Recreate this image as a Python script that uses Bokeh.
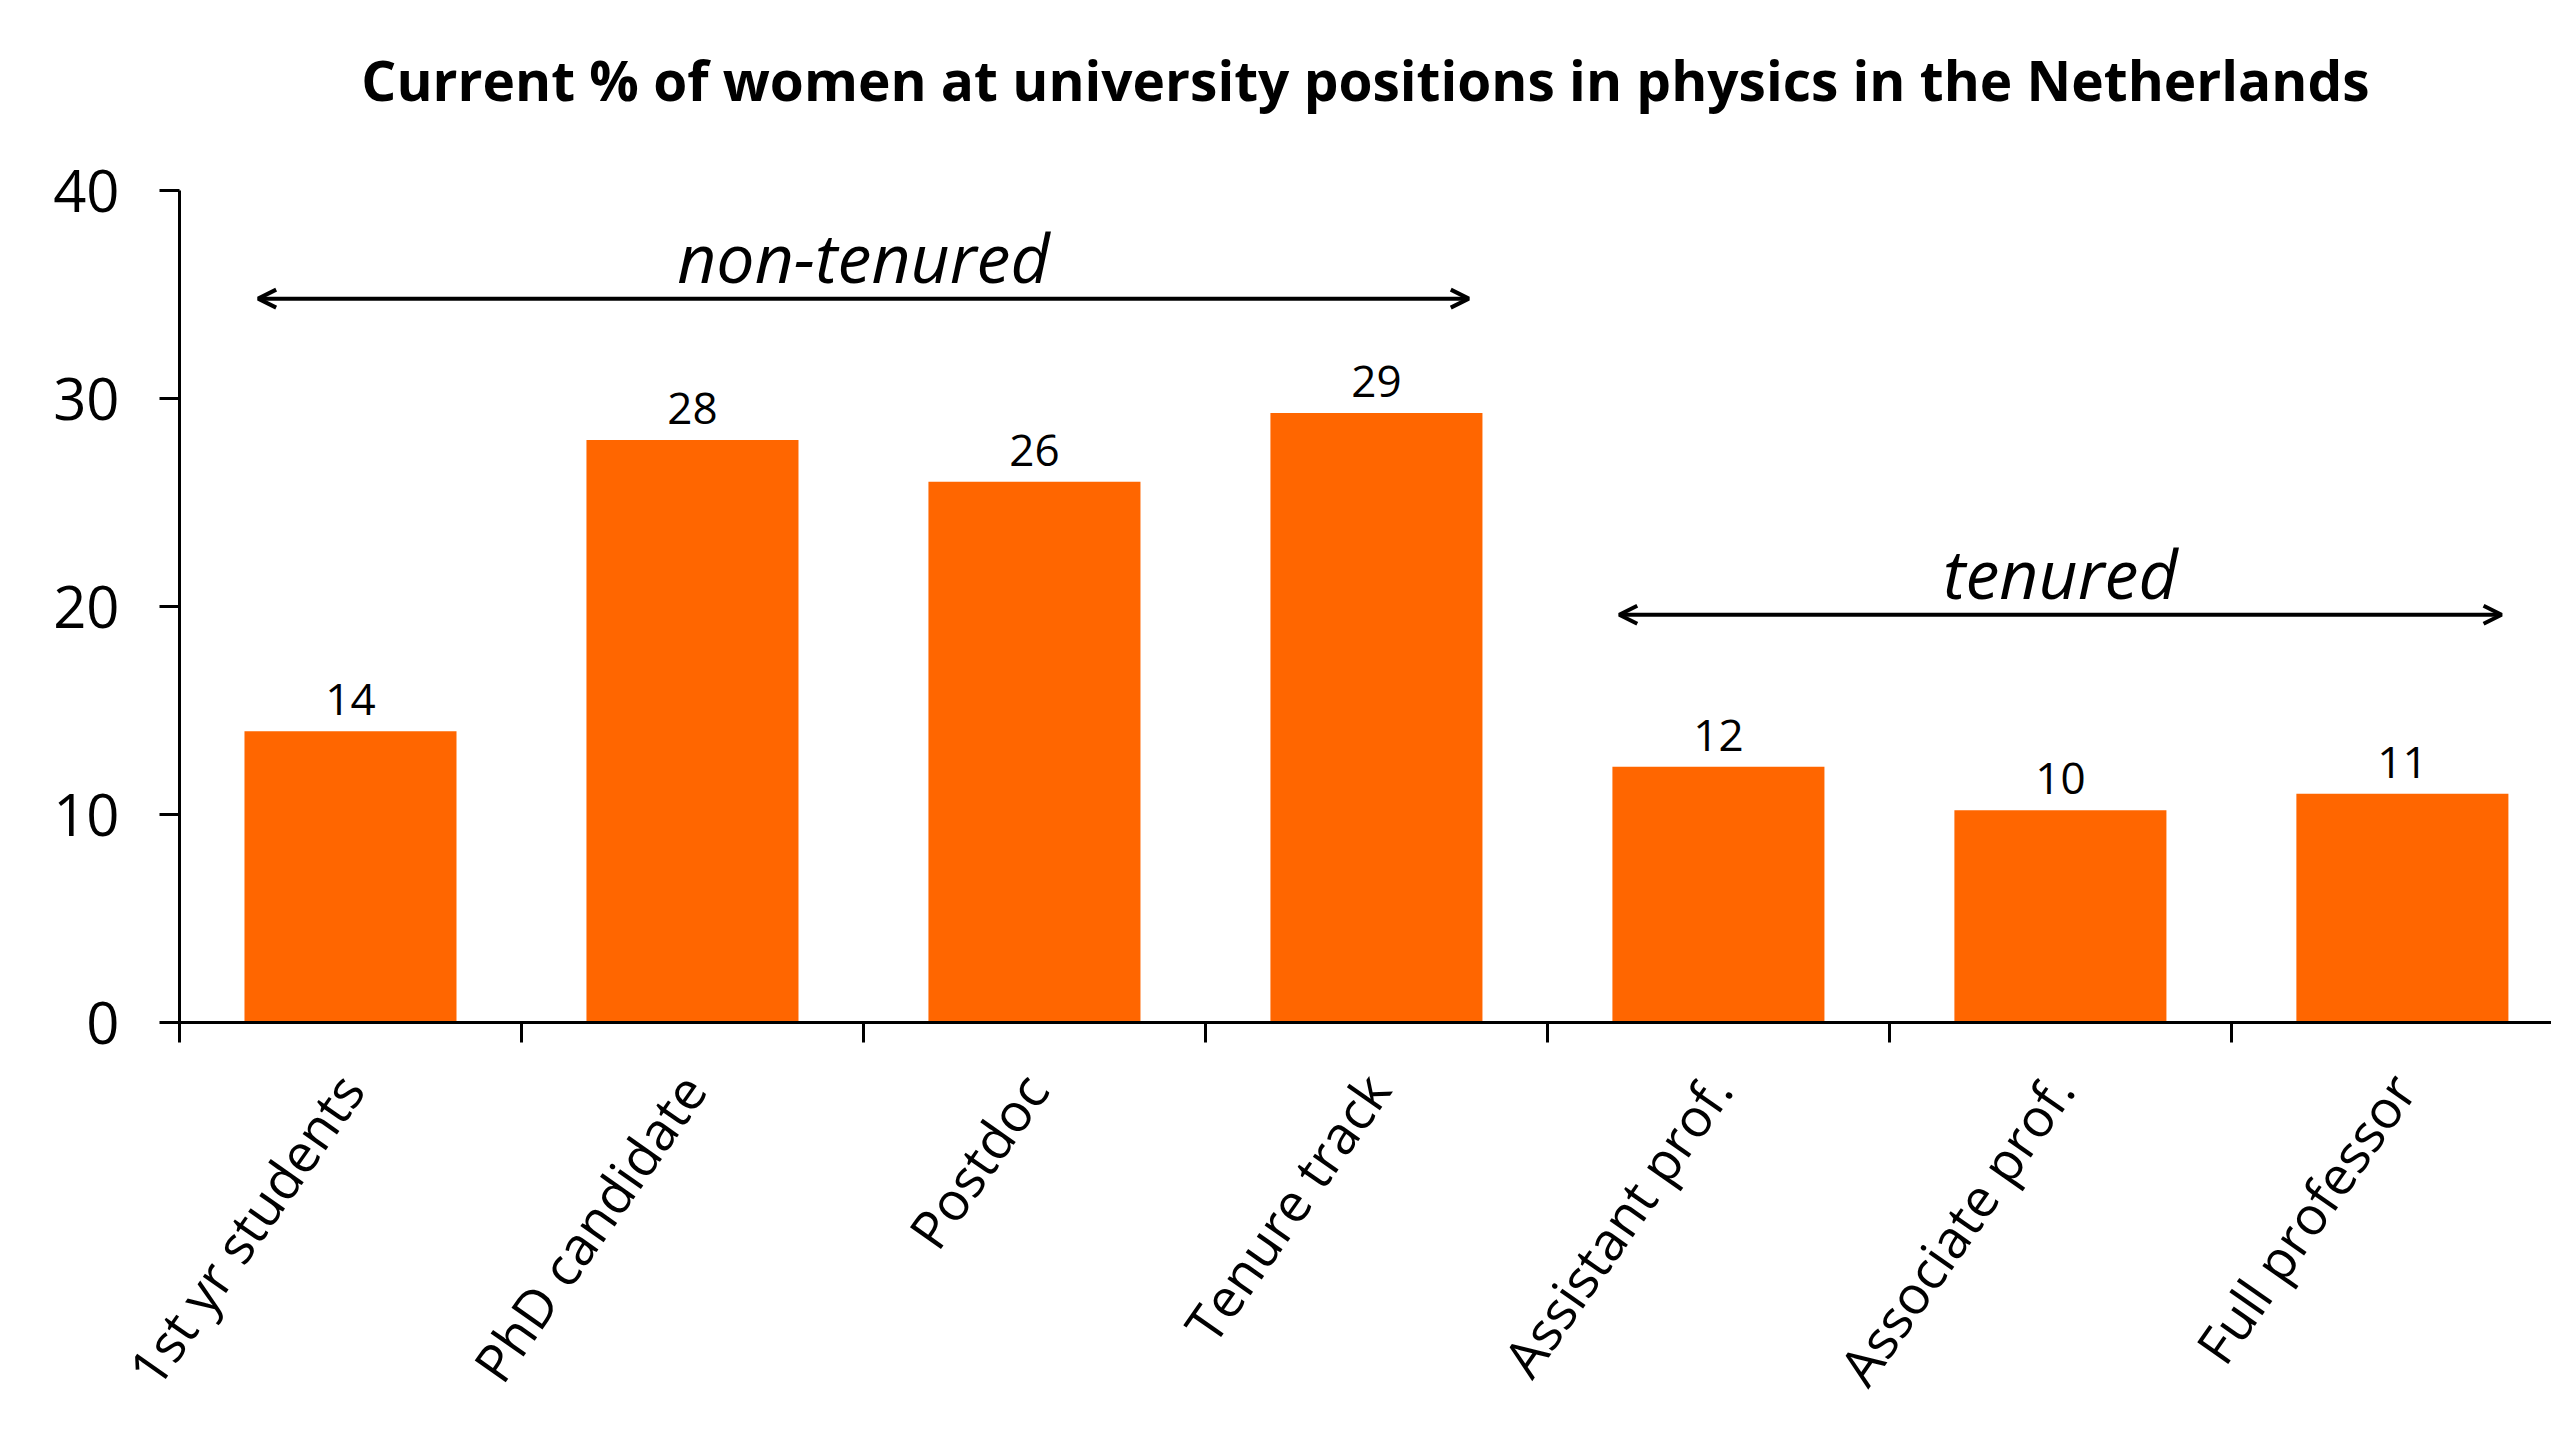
from bokeh.plotting import figure
from bokeh.models import (ColumnDataSource, Range1d, FixedTicker, Arrow, OpenHead, Label,
                          LinearAxis)
from bokeh.core.properties import value
from bokeh.embed import file_html
from bokeh.resources import INLINE

categories = ["1st yr students", "PhD candidate", "Postdoc", "Tenure track",
              "Assistant prof.", "Associate prof.", "Full professor"]
women_pct = [14.0, 28.0, 26.0, 29.3, 12.3, 10.2, 11.0]
value_labels = ["14", "28", "26", "29", "12", "10", "11"]
y_ticks = [0, 10, 20, 30, 40]
title_text = "Current % of women at university positions in physics in the Netherlands"

FONT = "Open Sans"
ORANGE = "#FF6600"

xc = [i + 0.5 for i in range(len(categories))]
src = ColumnDataSource(dict(x=xc, top=women_pct, lab=value_labels))

p = figure(width=2551, height=1431, output_backend="svg", toolbar_location=None,
           x_range=Range1d(0, 6.936), y_range=Range1d(0, 40),
           min_border_left=179, min_border_right=0, min_border_top=190,
           min_border_bottom=409)
p.outline_line_color = None
p.grid.visible = False
p.background_fill_color = "white"
p.border_fill_color = "white"

p.vbar(x="x", top="top", bottom=0, width=0.62, source=src,
       fill_color=ORANGE, line_color=None)
p.text(x="x", y="top", text="lab", source=src, text_align="center",
       text_baseline="bottom", y_offset=-16, text_font=value(FONT),
       text_font_size="44px", text_color="black")

# x axis: boundary ticks, labels at centres
xa = p.below[0]
xa.ticker = FixedTicker(ticks=xc, minor_ticks=list(range(len(categories) + 1)))
xa.major_label_overrides = {x: c for x, c in zip(xc, categories)}
xa.major_tick_out = 0
xa.major_tick_in = 0
xa.minor_tick_out = 20
xa.minor_tick_in = 0
xa.minor_tick_line_color = "black"
xa.minor_tick_line_width = 3
xa.axis_line_width = 3
xa.axis_line_color = "black"
xa.major_label_orientation = 0.96
xa.major_label_standoff = 37
xa.major_label_text_font = FONT
xa.major_label_text_font_size = "53px"
xa.major_label_text_color = "black"

ya = p.left[0]
ya.ticker = FixedTicker(ticks=y_ticks)
ya.major_tick_out = 20
ya.major_tick_in = 0
ya.minor_tick_out = 0
ya.minor_tick_in = 0
ya.major_tick_line_width = 3
ya.axis_line_width = 3
ya.major_label_standoff = 40
ya.major_label_text_font = FONT
ya.major_label_text_font_size = "58px"
ya.major_label_text_color = "black"

# title, drawn as the label of a bare axis above the frame
top_axis = LinearAxis(axis_label=title_text, ticker=FixedTicker(ticks=[]),
                      bounds=(0.13, 6.93), axis_line_color=None,
                      major_tick_out=0, major_tick_in=0, minor_tick_out=0, minor_tick_in=0,
                      major_label_text_font_size="0px",
                      axis_label_standoff=74, axis_label_text_font=FONT,
                      axis_label_text_font_size="55px", axis_label_text_font_style="bold",
                      axis_label_text_color="black")
p.add_layout(top_axis, "above")

# group annotations
for xs, xe, y in [(0.23, 3.77, 34.8), (4.21, 6.79, 19.6)]:
    p.add_layout(Arrow(x_start=xs, y_start=y, x_end=xe, y_end=y, line_width=4,
                       start=OpenHead(size=18, line_width=4),
                       end=OpenHead(size=18, line_width=4)))
p.add_layout(Label(x=2.0, y=34.6, text="non-tenured", text_align="center",
                   text_baseline="bottom", text_font=FONT, text_font_size="68px",
                   text_font_style="italic", text_color="black"))
p.add_layout(Label(x=5.5, y=19.42, text="tenured", text_align="center",
                   text_baseline="bottom", text_font=FONT, text_font_size="68px",
                   text_font_style="italic", text_color="black"))

open("out.html", "w").write(file_html(p, INLINE))
